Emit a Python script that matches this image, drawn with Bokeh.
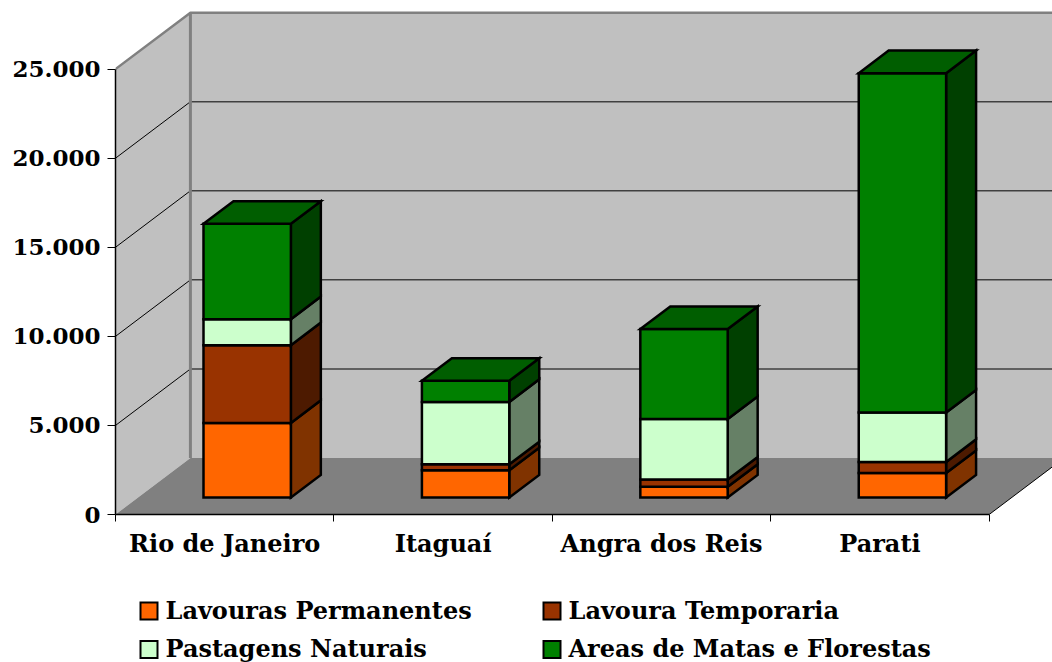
from bokeh.plotting import figure
from bokeh.layouts import column
from bokeh.models import Range1d, FixedTicker
from bokeh.core.properties import value
from bokeh.embed import file_html
from bokeh.resources import INLINE

# Municipalities and land use (hectares)
municipios = ["Rio de Janeiro", "Itaguaí", "Angra dos Reis", "Parati"]
series_names = ["Lavouras Permanentes", "Lavoura Temporaria",
                "Pastagens Naturais", "Areas de Matas e Florestas"]
lavouras_permanentes = [4190, 1530, 600, 1380]
lavoura_temporaria = [4365, 340, 415, 620]
pastagens_naturais = [1460, 3500, 3390, 2775]
matas_florestas = [5355, 1180, 5055, 19045]
y_ticks = [0, 5000, 10000, 15000, 20000, 25000]
y_tick_labels = ["0", "5.000", "10.000", "15.000", "20.000", "25.000"]

series_values = [lavouras_permanentes, lavoura_temporaria, pastagens_naturais, matas_florestas]
front_colors = ["#FF6600", "#993300", "#CCFFCC", "#008000"]
side_colors = ["#803300", "#4D1A00", "#668066", "#004000"]
top_colors = ["#B34700", "#6B2400", "#8FB38F", "#005E00"]

FONT = "DejaVu Serif"

# 3D box geometry, in data units
N = len(municipios)
Y_MAX = y_ticks[-1]
DX, DY = 0.343, 3170          # full depth of the floor (x units, value units)
BAR_W = 0.4                   # bar width in category units
D0, D1 = 0.3, 0.7             # depth of bar front / back faces
X_END = 4.29
Y_END = Y_MAX + DY + 120

CHART_H, LEGEND_H, LEFT = 562, 100, 115

p = figure(width=1052, height=CHART_H,
           x_range=Range1d(0, X_END), y_range=Range1d(0, Y_END),
           min_border_left=LEFT, min_border_right=0,
           min_border_top=10, min_border_bottom=48,
           output_backend="svg", toolbar_location=None)
p.outline_line_color = None
p.grid.visible = False
p.background_fill_color = "white"
p.border_fill_color = "white"

# walls and floor
p.patch([0, DX, DX, 0], [0, DY, Y_MAX + DY, Y_MAX], fill_color="#C0C0C0", line_color=None)
p.patch([DX, N + DX, N + DX, DX], [DY, DY, Y_MAX + DY, Y_MAX + DY],
        fill_color="#C0C0C0", line_color=None)
p.patch([0, N, N + DX, DX], [0, 0, DY, DY], fill_color="#808080", line_color=None)

# grid lines on the side and back walls
grid_vals = y_ticks[1:-1]
p.segment(x0=[0] * len(grid_vals), y0=grid_vals,
          x1=[DX] * len(grid_vals), y1=[v + DY for v in grid_vals],
          line_color="black", line_width=1)
p.segment(x0=[DX] * len(grid_vals), y0=[v + DY for v in grid_vals],
          x1=[N + DX] * len(grid_vals), y1=[v + DY for v in grid_vals],
          line_color="#404040", line_width=1.5)

# wall edges
p.line([0, DX, N + DX], [Y_MAX, Y_MAX + DY, Y_MAX + DY], line_color="#808080", line_width=2.5)
p.line([DX, DX], [DY, Y_MAX + DY], line_color="#808080", line_width=3)
p.line([N, N + DX], [0, DY], line_color="black", line_width=1)

# stacked 3D bars
ddx = (D1 - D0) * DX
ddy = (D1 - D0) * DY
bottoms = [0.0] * N
last_tops = None
for k, vals in enumerate(series_values):
    lefts = [i + 0.5 - BAR_W / 2 + D0 * DX for i in range(N)]
    rights = [l + BAR_W for l in lefts]
    b = [bottoms[i] + D0 * DY for i in range(N)]
    t = [bottoms[i] + vals[i] + D0 * DY for i in range(N)]
    side_xs = [[rights[i], rights[i] + ddx, rights[i] + ddx, rights[i]] for i in range(N)]
    side_ys = [[b[i], b[i] + ddy, t[i] + ddy, t[i]] for i in range(N)]
    p.patches(side_xs, side_ys, fill_color=side_colors[k], line_color="black",
              line_width=2.5, line_join="miter")
    p.quad(left=lefts, right=rights, bottom=b, top=t, fill_color=front_colors[k],
           line_color="black", line_width=2.5, line_join="miter")
    bottoms = [bottoms[i] + vals[i] for i in range(N)]
    last_tops = (lefts, rights, t)

lefts, rights, t = last_tops
top_xs = [[lefts[i], rights[i], rights[i] + ddx, lefts[i] + ddx] for i in range(N)]
top_ys = [[t[i], t[i], t[i] + ddy, t[i] + ddy] for i in range(N)]
p.patches(top_xs, top_ys, fill_color=top_colors[-1], line_color="black",
          line_width=2.5, line_join="miter")

# axes
xa = p.xaxis[0]
xa.ticker = FixedTicker(ticks=[i + 0.5 for i in range(N)], minor_ticks=list(range(N + 1)))
xa.major_label_overrides = {i + 0.5: m for i, m in enumerate(municipios)}
xa.bounds = (0, N)
xa.axis_line_color = "black"
xa.axis_line_width = 1.5
xa.major_tick_line_color = None
xa.major_tick_out = 0
xa.major_tick_in = 0
xa.minor_tick_line_color = "black"
xa.minor_tick_out = 7
xa.minor_tick_in = 0
xa.major_label_standoff = 7
xa.major_label_text_font = FONT
xa.major_label_text_font_style = "bold"
xa.major_label_text_font_size = "24px"
xa.major_label_text_color = "black"

ya = p.yaxis[0]
ya.ticker = FixedTicker(ticks=y_ticks, minor_ticks=[])
ya.major_label_overrides = {v: s for v, s in zip(y_ticks, y_tick_labels)}
ya.bounds = (0, Y_MAX)
ya.axis_line_color = "black"
ya.axis_line_width = 1.5
ya.major_tick_line_color = "black"
ya.major_tick_out = 8
ya.major_tick_in = 0
ya.minor_tick_line_color = None
ya.major_label_standoff = 7
ya.major_label_text_font = FONT
ya.major_label_text_font_style = "bold"
ya.major_label_text_font_size = "23px"
ya.major_label_text_color = "black"

# legend strip under the chart: page-pixel coordinates, two columns x two rows
leg = figure(width=1052, height=LEGEND_H,
             x_range=Range1d(LEFT, 1052), y_range=Range1d(CHART_H + LEGEND_H, CHART_H),
             min_border=0, min_border_left=LEFT, min_border_right=0,
             x_axis_location=None, y_axis_location=None,
             output_backend="svg", toolbar_location=None)
leg.outline_line_color = None
leg.grid.visible = False

KEY = 17                      # key square size
COL_X = [140, 543]            # left edge of each legend column
ROW_MID = [610.5, 649]        # vertical centre of each legend row
key_x, key_y, lab_x, lab_y = [], [], [], []
for n, name in enumerate(series_names):
    row, col = divmod(n, 2)
    key_x.append(COL_X[col] + KEY / 2)
    key_y.append(ROW_MID[row])
    lab_x.append(COL_X[col] + KEY + 8)
    lab_y.append(ROW_MID[row] - 1)

leg.rect(x=key_x, y=key_y, width=KEY, height=KEY, width_units="screen", height_units="screen",
         fill_color=front_colors, line_color="black", line_width=2, line_join="miter")
leg.text(x=lab_x, y=lab_y, text=series_names, text_font=value(FONT),
         text_font_style="bold", text_font_size="24px", text_color="black",
         text_baseline="middle", text_align="left")

open("out.html", "w").write(file_html(column(p, leg, spacing=0), INLINE))
